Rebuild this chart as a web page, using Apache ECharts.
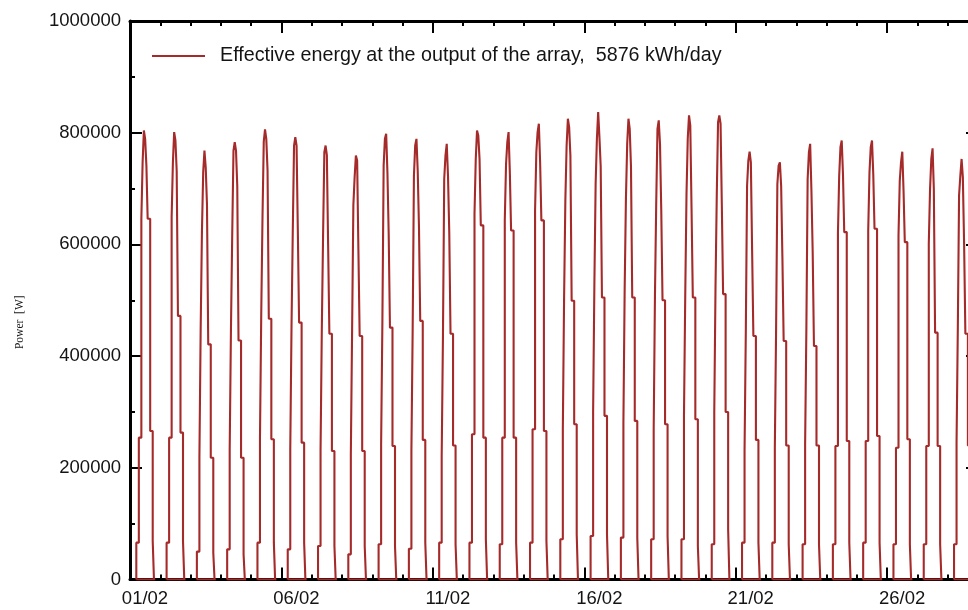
<!DOCTYPE html>
<html>
<head>
<meta charset="utf-8">
<script src="https://cdn.jsdelivr.net/npm/echarts@6/dist/echarts.min.js"></script>
<style>html,body{margin:0;padding:0;background:#fff}#c{width:968px;height:610px}</style>
</head>
<body>
<div id="c"></div>
<script>
// ---- data (hourly effective power in kW, hours 05..18 of each day, February) ----
const firstHour = 5;
const d01 = [66,66,254,254,646,747,804,789,741,646,646,266,266,69];
const d02 = [66,66,254,254,649,747,801,786,732,472,472,263,263,69];
const d03 = [50,50,218,448,622,729,768,738,672,421,421,218,218,48];
const d04 = [54,54,233,448,617,768,783,768,705,428,428,218,218,45];
const d05 = [66,66,254,475,649,784,806,789,733,467,467,251,251,66];
const d06 = [54,54,233,454,625,777,792,777,625,460,460,245,245,66];
const d07 = [60,60,230,448,616,765,777,760,600,440,440,230,230,60];
const d08 = [45,45,224,445,670,720,759,750,590,436,436,230,230,60];
const d09 = [63,63,242,460,741,789,798,729,619,451,451,239,239,60];
const d10 = [55,55,230,448,723,777,789,732,631,463,463,250,250,66];
const d11 = [66,66,221,436,717,759,780,723,622,440,440,240,240,63];
const d12 = [66,66,260,260,655,753,804,795,753,634,634,254,254,72];
const d13 = [63,63,254,254,643,744,783,801,729,625,625,254,254,66];
const d14 = [66,66,269,269,661,765,801,816,747,643,643,266,266,69];
const d15 = [72,72,269,505,679,777,825,810,759,499,499,278,278,81];
const d16 = [78,78,300,529,709,789,837,792,740,505,505,293,293,81];
const d17 = [75,75,280,520,682,780,825,807,740,505,505,284,284,75];
const d18 = [72,72,269,508,673,807,822,780,661,500,500,278,278,78];
const d19 = [72,72,293,508,690,790,831,813,664,505,505,287,287,60];
const d20 = [63,63,299,526,690,819,831,816,670,511,511,300,300,90];
const d21 = [66,66,230,443,705,750,766,747,589,436,436,250,250,66];
const d22 = [66,66,236,448,708,741,747,705,577,427,427,240,240,63];
const d23 = [63,63,242,451,717,765,780,696,586,418,418,240,240,63];
const d24 = [63,63,239,239,619,723,774,786,726,622,622,248,248,66];
const d25 = [66,66,248,248,625,729,774,786,726,628,628,257,257,66];
const d26 = [63,63,236,236,616,714,747,766,696,604,604,251,251,63];
const d27 = [63,63,239,239,601,699,753,772,699,442,442,239,239,63];
const d28 = [63,63,245,448,688,723,753,720,600,440,440,240,240,60];
const days = [d01,d02,d03,d04,d05,d06,d07,d08,d09,d10,d11,d12,d13,d14,
              d15,d16,d17,d18,d19,d20,d21,d22,d23,d24,d25,d26,d27,d28];

const xTickLabels = ['01/02','06/02','11/02','16/02','21/02','26/02'];
const yTickLabels = ['0','200000','400000','600000','800000','1000000'];
const seriesName = 'Effective energy at the output of the array,  5876 kWh/day';
const yAxisTitle = 'Power  [W]';

// ---- build series points (hours since 01/02 00:00, W) ----
const pts = [];
days.forEach((vals, d) => {
  const h0 = d * 24 + firstHour;
  pts.push([h0, 0]);
  vals.forEach((v, i) => pts.push([h0 + i, v * 1000]));
  const hEnd = h0 + vals.length;
  pts.push([hEnd, 0]);
  pts.push([h0, 0]);
  pts.push([hEnd + 1, '-']);
});

const black = '#000';
const txt = '#141414';
const font = 'Liberation Sans';
const dayH = 24, majorH = 120, spanH = 28 * 24;
const yMajor = 200000, yMinor = 100000, yMax = 1000000;

function xAx(pos, interval, tickLen, withLine, withLabel) {
  return {
    type: 'value', position: pos, min: 0, max: spanH, interval: interval,
    axisLine: { show: withLine, onZero: false, lineStyle: { color: black, width: 3 } },
    axisTick: { show: true, inside: true, length: tickLen, lineStyle: { color: black, width: 2 } },
    splitLine: { show: false },
    axisLabel: withLabel ? {
      show: true, color: txt, fontFamily: font, fontSize: 18.5, margin: 10,
      padding: [0, 0, 0, 30],
      formatter: v => (v % majorH === 0 && xTickLabels[v / majorH]) ? xTickLabels[v / majorH] : ''
    } : { show: false }
  };
}
function yAx(pos, interval, tickLen, withLine, withLabel) {
  const a = {
    type: 'value', position: pos, min: 0, max: yMax, interval: interval,
    axisLine: { show: withLine, onZero: false, lineStyle: { color: black, width: 3 } },
    axisTick: { show: true, inside: true, length: tickLen, lineStyle: { color: black, width: 2 } },
    splitLine: { show: false },
    axisLabel: withLabel ? { color: txt, fontFamily: font, fontSize: 18.5, margin: 9,
      formatter: v => yTickLabels[Math.round(v / yMajor)] } : { show: false }
  };
  if (withLabel) {
    a.name = yAxisTitle; a.nameLocation = 'middle'; a.nameGap = 104;
    a.nameTextStyle = { fontFamily: 'Liberation Serif', fontSize: 11.5, color: txt, padding: [0, 44, 0, 0] };
  }
  return a;
}

const chart = echarts.init(document.getElementById('c'), null, { renderer: 'canvas' });
chart.setOption({
  animation: false,
  backgroundColor: '#fff',
  grid: { left: 130, top: 21, width: 848, height: 558.5, containLabel: false, outerBoundsMode: 'none' },
  legend: {
    show: true, left: 147, top: 41, icon: 'rect', itemWidth: 53, itemHeight: 2,
    textStyle: { color: txt, fontFamily: font, fontSize: 19.7, padding: [0, 0, 0, 10] },
    data: [seriesName]
  },
  xAxis: [
    xAx('bottom', majorH, 12, true, true),
    xAx('bottom', dayH, 5, false, false),
    xAx('top', majorH, 12, true, false),
    xAx('top', dayH, 5, false, false)
  ],
  yAxis: [
    yAx('left', yMajor, 12, true, true),
    yAx('left', yMinor, 5, false, false),
    yAx('right', yMajor, 12, true, false),
    yAx('right', yMinor, 5, false, false)
  ],
  series: [{
    name: seriesName, type: 'line', step: 'end', data: pts,
    xAxisIndex: 0, yAxisIndex: 0, showSymbol: false, symbol: 'none',
    connectNulls: false, clip: true,
    color: '#a52a2a',
    lineStyle: { color: '#a52a2a', width: 2.1 }
  }]
});
</script>
</body>
</html>
